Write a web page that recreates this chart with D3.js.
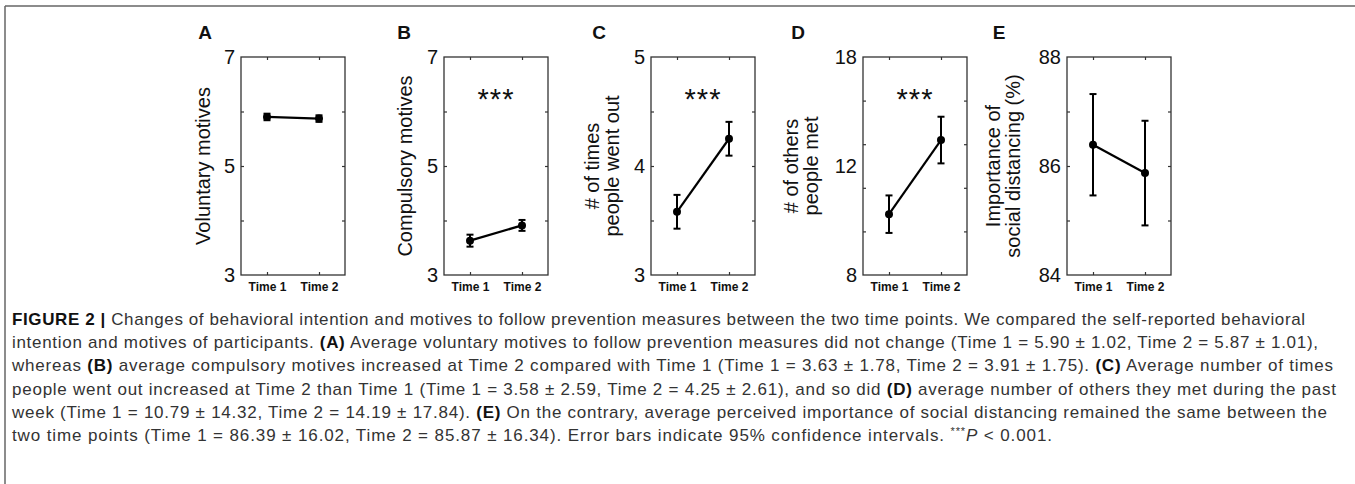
<!DOCTYPE html>
<html>
<head>
<meta charset="utf-8">
<script src="https://cdn.jsdelivr.net/npm/d3@7"></script>
<style>
  body { margin: 0; background: #fff; }
  svg { display: block; font-family: 'Liberation Sans', Arial, sans-serif; }
</style>
</head>
<body>
<div id="chart"></div>
<script>
const width = 1355
const height = 484

// data
const timeLabels = ['Time 1', 'Time 2']
const panelIds = ['A', 'B', 'C', 'D', 'E']
const yLabels = [
  ['Voluntary motives'],
  ['Compulsory motives'],
  ['# of times', 'people went out'],
  ['# of others', 'people met'],
  ['Importance of', 'social distancing (%)']
]
const means = [[5.9, 5.87], [3.63, 3.91], [3.58, 4.25], [10.79, 14.19], [86.39, 85.87]]
const ciHalf = [[0.06, 0.06], [0.11, 0.1], [0.155, 0.155], [0.86, 1.07], [0.93, 0.96]]
const yDomains = [[3, 7], [3, 7], [3, 5], [8, 18], [84, 88]]
const tickMarks = [[4, 5, 6], [4, 5, 6], [3.5, 4, 4.5], [10, 12, 14, 16], [85, 86, 87]]
const labelTicks = [[3, 5, 7], [3, 5, 7], [3, 4, 5], [8, 13, 18], [84, 86, 88]]
const labelTickText = [['3', '5', '7'], ['3', '5', '7'], ['3', '4', '5'], ['8', '12', '18'], ['84', '86', '88']]
const significant = [false, true, true, true, false]

// layout
const boxLeft = [241, 444, 651, 863, 1067]
const panelLetterX = [205, 404, 599, 798, 999]
const yLabelOffset = [38, 39, 49, 62, 64]
const boxW = 104
const boxTop = 57
const boxBottom = 275
const captionRight = [1305, 1318, 1333, 1336, 1327, 1052]

const svg = d3
  .select('#chart')
  .append('svg')
  .attr('width', width)
  .attr('height', height)

// frame lines
svg.append('line')
  .attr('x1', 5).attr('x2', width).attr('y1', 6).attr('y2', 6)
  .attr('stroke', '#666').attr('stroke-width', 1.5)
svg.append('line')
  .attr('x1', 5).attr('x2', 5).attr('y1', 6).attr('y2', height)
  .attr('stroke', '#666').attr('stroke-width', 1.5)

const y = d3.scaleLinear().range([boxBottom, boxTop])

panelIds.forEach((id, i) => {
  const g = svg.append('g')
  const x = d3.scaleLinear().domain([0.5, 2.5]).range([boxLeft[i], boxLeft[i] + boxW])
  const yi = y.copy().domain(yDomains[i])

  // inward ticks on all four sides
  const tickStyle = sel => {
    sel.select('.domain').remove()
    sel.selectAll('line').attr('stroke', '#333').attr('stroke-width', 1.2)
    sel.selectAll('text').remove()
  }
  g.append('g')
    .attr('transform', `translate(${boxLeft[i]},0)`)
    .call(d3.axisLeft(yi).tickValues(tickMarks[i]).tickSize(-3))
    .call(tickStyle)
  g.append('g')
    .attr('transform', `translate(${boxLeft[i] + boxW},0)`)
    .call(d3.axisRight(yi).tickValues(tickMarks[i]).tickSize(-3))
    .call(tickStyle)
  g.append('g')
    .attr('transform', `translate(0,${boxTop})`)
    .call(d3.axisTop(x).tickValues([1, 2]).tickSize(-3))
    .call(tickStyle)
  g.append('g')
    .attr('transform', `translate(0,${boxBottom})`)
    .call(d3.axisBottom(x).tickValues([1, 2]).tickSize(-3))
    .call(tickStyle)

  // y tick labels
  const yAx = g.append('g')
    .attr('transform', `translate(${boxLeft[i] - 3},0)`)
    .call(d3.axisLeft(yi).tickValues(labelTicks[i]).tickSize(0)
      .tickFormat((d, k) => labelTickText[i][k]))
  yAx.select('.domain').remove()
  yAx.selectAll('text')
    .attr('font-size', 20)
    .attr('font-family', "'Liberation Sans', Arial, sans-serif")
    .attr('fill', '#111')

  // x tick labels
  const xAx = g.append('g')
    .attr('transform', `translate(0,${boxBottom + 4})`)
    .call(d3.axisBottom(x).tickValues([1, 2]).tickSize(0)
      .tickFormat((d, k) => timeLabels[k]))
  xAx.select('.domain').remove()
  xAx.selectAll('text')
    .attr('font-size', 12)
    .attr('font-weight', 'bold')
    .attr('font-family', "'Liberation Sans', Arial, sans-serif")
    .attr('fill', '#111')

  // box
  g.append('rect')
    .attr('x', boxLeft[i]).attr('y', boxTop)
    .attr('width', boxW).attr('height', boxBottom - boxTop)
    .attr('fill', 'none').attr('stroke', '#333').attr('stroke-width', 1.3)

  // y label
  const lines = yLabels[i]
  const cx = boxLeft[i] - yLabelOffset[i]
  const cy = (boxTop + boxBottom) / 2
  lines.forEach((t, k) => {
    const off = (k - (lines.length - 1) / 2) * 20
    g.append('text')
      .attr('transform', `translate(${cx + off},${cy}) rotate(-90)`)
      .attr('text-anchor', 'middle')
      .attr('dy', '0.35em')
      .attr('font-size', 20)
      .attr('fill', '#111')
      .text(t)
  })

  // panel letter
  g.append('text')
    .attr('x', panelLetterX[i])
    .attr('y', 39)
    .attr('text-anchor', 'middle')
    .attr('font-size', 19)
    .attr('font-weight', 'bold')
    .attr('fill', '#111')
    .text(id)

  // significance stars
  if (significant[i]) {
    g.append('text')
      .attr('x', boxLeft[i] + boxW / 2)
      .attr('y', boxTop + 52)
      .attr('text-anchor', 'middle')
      .attr('font-size', 29)
      .attr('letter-spacing', 1)
      .attr('fill', '#111')
      .text('***')
  }

  const pts = means[i].map((m, k) => ({ t: k + 1, m: m, ci: ciHalf[i][k] }))

  // connecting line
  g.append('path')
    .datum(pts)
    .attr('d', d3.line().x(d => x(d.t)).y(d => yi(d.m)))
    .attr('fill', 'none')
    .attr('stroke', '#000')
    .attr('stroke-width', 2.2)

  // error bars
  const eb = g.selectAll('.eb').data(pts).enter().append('g')
  eb.append('line')
    .attr('x1', d => x(d.t)).attr('x2', d => x(d.t))
    .attr('y1', d => yi(d.m - d.ci)).attr('y2', d => yi(d.m + d.ci))
  eb.append('line')
    .attr('x1', d => x(d.t) - 3.5).attr('x2', d => x(d.t) + 3.5)
    .attr('y1', d => yi(d.m - d.ci)).attr('y2', d => yi(d.m - d.ci))
  eb.append('line')
    .attr('x1', d => x(d.t) - 3.5).attr('x2', d => x(d.t) + 3.5)
    .attr('y1', d => yi(d.m + d.ci)).attr('y2', d => yi(d.m + d.ci))
  eb.selectAll('line').attr('stroke', '#000').attr('stroke-width', 2)

  g.selectAll('.pt').data(pts).enter().append('circle')
    .attr('cx', d => x(d.t))
    .attr('cy', d => yi(d.m))
    .attr('r', 4)
    .attr('fill', '#000')
})

// caption
const caption = [
  [['b', 'FIGURE 2 |'], ['', ' Changes of behavioral intention and motives to follow prevention measures between the two time points. We compared the self-reported behavioral']],
  [['', 'intention and motives of participants. '], ['b', '(A)'], ['', ' Average voluntary motives to follow prevention measures did not change (Time 1 = 5.90 \u00b1 1.02, Time 2 = 5.87 \u00b1 1.01),']],
  [['', 'whereas '], ['b', '(B)'], ['', ' average compulsory motives increased at Time 2 compared with Time 1 (Time 1 = 3.63 \u00b1 1.78, Time 2 = 3.91 \u00b1 1.75). '], ['b', '(C)'], ['', ' Average number of times']],
  [['', 'people went out increased at Time 2 than Time 1 (Time 1 = 3.58 \u00b1 2.59, Time 2 = 4.25 \u00b1 2.61), and so did '], ['b', '(D)'], ['', ' average number of others they met during the past']],
  [['', 'week (Time 1 = 10.79 \u00b1 14.32, Time 2 = 14.19 \u00b1 17.84). '], ['b', '(E)'], ['', ' On the contrary, average perceived importance of social distancing remained the same between the']],
  [['', 'two time points (Time 1 = 86.39 \u00b1 16.02, Time 2 = 85.87 \u00b1 16.34). Error bars indicate 95% confidence intervals. '], ['s', '***'], ['i', 'P'], ['', ' < 0.001.']]
]

const cap = svg.append('g')
caption.forEach((segs, k) => {
  const t = cap.append('text')
    .attr('x', 12)
    .attr('y', 325 + k * 23.2)
    .attr('font-size', 17)
    .attr('fill', '#333')
    .attr('textLength', captionRight[k] - 12)
    .attr('lengthAdjust', 'spacing')
  segs.forEach(([kind, str]) => {
    const s = t.append('tspan').text(str)
    if (kind === 'b') s.attr('font-weight', 'bold').attr('fill', '#111')
    if (kind === 'i') s.attr('font-style', 'italic')
    if (kind === 's') s.attr('font-size', 11).attr('dy', -6)
    if (kind === 'i') s.attr('dy', 6)
  })
})
</script>
</body>
</html>
